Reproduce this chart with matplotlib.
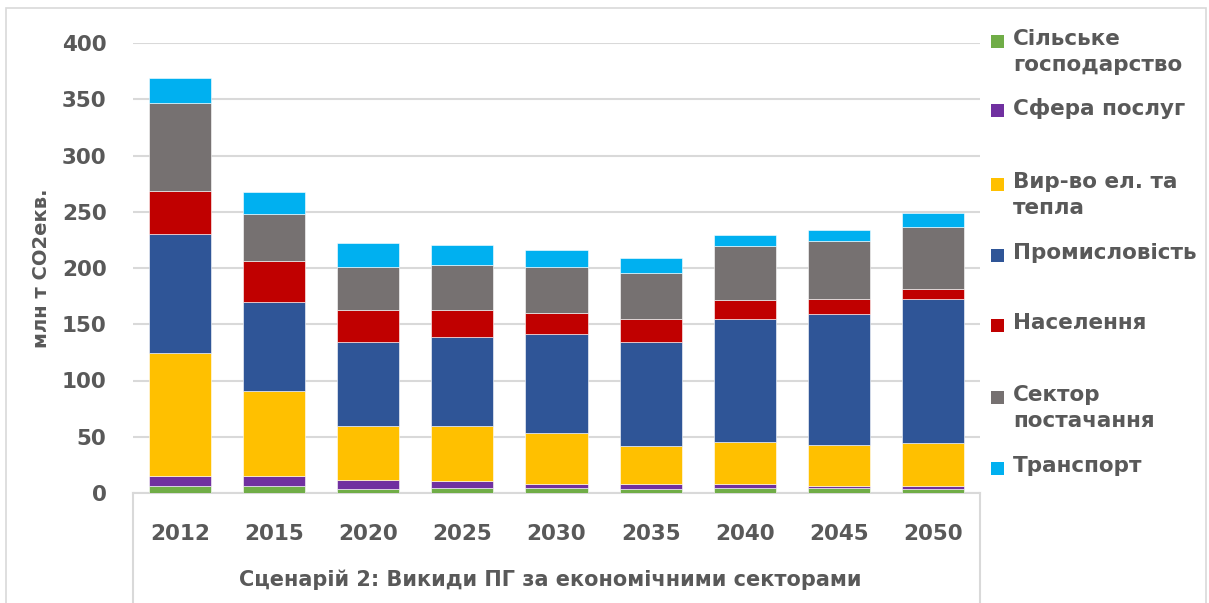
import numpy as np
import matplotlib.pyplot as plt
from matplotlib.patches import Rectangle
from matplotlib.lines import Line2D

plt.rcParams['font.family'] = ['DejaVu Sans']

years = ['2012', '2015', '2020', '2025', '2030', '2035', '2040', '2045', '2050']

agriculture = [6.6, 6.6, 3.6, 4.8, 4.8, 3.6, 4.8, 4.8, 3.6]
services = [8.2, 8.2, 8.3, 5.6, 2.9, 4.1, 2.9, 1.5, 2.7]
power_heat = [110.0, 76.2, 48.0, 49.5, 45.4, 34.2, 38.0, 36.7, 38.2]
industry = [105.8, 78.9, 74.7, 78.9, 88.6, 92.7, 108.7, 115.8, 128.3]
households = [38.2, 36.7, 28.2, 24.0, 18.0, 19.8, 17.2, 14.0, 8.6]
supply = [77.6, 41.1, 38.2, 39.6, 41.3, 41.2, 47.7, 50.9, 54.8]
transport = [22.6, 19.6, 21.3, 18.4, 15.4, 13.6, 10.1, 9.8, 13.0]

series = [agriculture, services, power_heat, industry, households, supply, transport]
labels = ['Сільське\nгосподарство', 'Сфера послуг', 'Вир-во ел. та\nтепла',
          'Промисловість', 'Населення', 'Сектор\nпостачання', 'Транспорт']
colors = ['#70AD47', '#7030A0', '#FFC000', '#2F5597', '#C00000', '#767171', '#00B0F0']

text_color = '#595959'
grid_color = '#d9d9d9'

fig = plt.figure(figsize=(12.09, 6.03), dpi=100)
ax = fig.add_axes([133 / 1209, 1 - 493 / 603, 847 / 1209, 450 / 603])

x = np.arange(len(years))
bottom = np.zeros(len(years))
for vals, col in zip(series, colors):
    ax.bar(x, vals, 0.66, bottom=bottom, color=col, edgecolor='white', linewidth=0.4, zorder=3)
    bottom += np.array(vals)

ax.set_xlim(-0.5, len(years) - 0.5)
ax.set_ylim(0, 400)
ax.set_yticks(np.arange(0, 401, 50))
ax.yaxis.grid(True, color=grid_color, linewidth=1.5, zorder=0)
ax.tick_params(axis='y', length=0, pad=19, labelsize=15.5, labelcolor=text_color)
ax.tick_params(axis='x', length=0, pad=22, labelsize=15.5, labelcolor=text_color)
for lab in ax.get_yticklabels() + ax.get_xticklabels():
    lab.set_fontweight('bold')
ax.set_xticks(x)
ax.set_xticklabels(years)

for s in ['top', 'right', 'left']:
    ax.spines[s].set_visible(False)
ax.spines['bottom'].set_color(grid_color)
ax.spines['bottom'].set_linewidth(1.5)

# category axis box lines
for xv in (0, 1):
    ax.add_line(Line2D([xv, xv], [0, -0.245], transform=ax.transAxes,
                       color=grid_color, linewidth=1.5, clip_on=False))

ax.set_ylabel('млн т CO2екв.', fontsize=14, fontweight='bold', color=text_color, labelpad=0)
ax.yaxis.set_label_coords(-0.097, 0.5)

fig.text(550 / 1209, 1 - 580 / 603, 'Сценарій 2: Викиди ПГ за економічними секторами',
         ha='center', va='center', fontsize=15, fontweight='bold', color=text_color)

# legend drawn manually to keep Excel-like spacing
marker_y = [42, 111, 185, 256, 326, 398, 469]
for lab, col, my in zip(labels, colors, marker_y):
    fig.patches.append(Rectangle((991 / 1209, 1 - (my + 6) / 603), 13 / 1209, 13 / 603,
                                 transform=fig.transFigure, facecolor=col, edgecolor='none'))
    fig.text(1013 / 1209, 1 - (my - 13) / 603, lab, ha='left', va='top', fontsize=15.5,
             fontweight='bold', color=text_color, linespacing=1.4)

# outer chart border
fig.patches.append(Rectangle((6 / 1209, -0.05), 1200 / 1209, 1 - 8 / 603 + 0.05,
                             transform=fig.transFigure, facecolor='none',
                             edgecolor=grid_color, linewidth=1.2))

fig.savefig('out.png', dpi=100)
